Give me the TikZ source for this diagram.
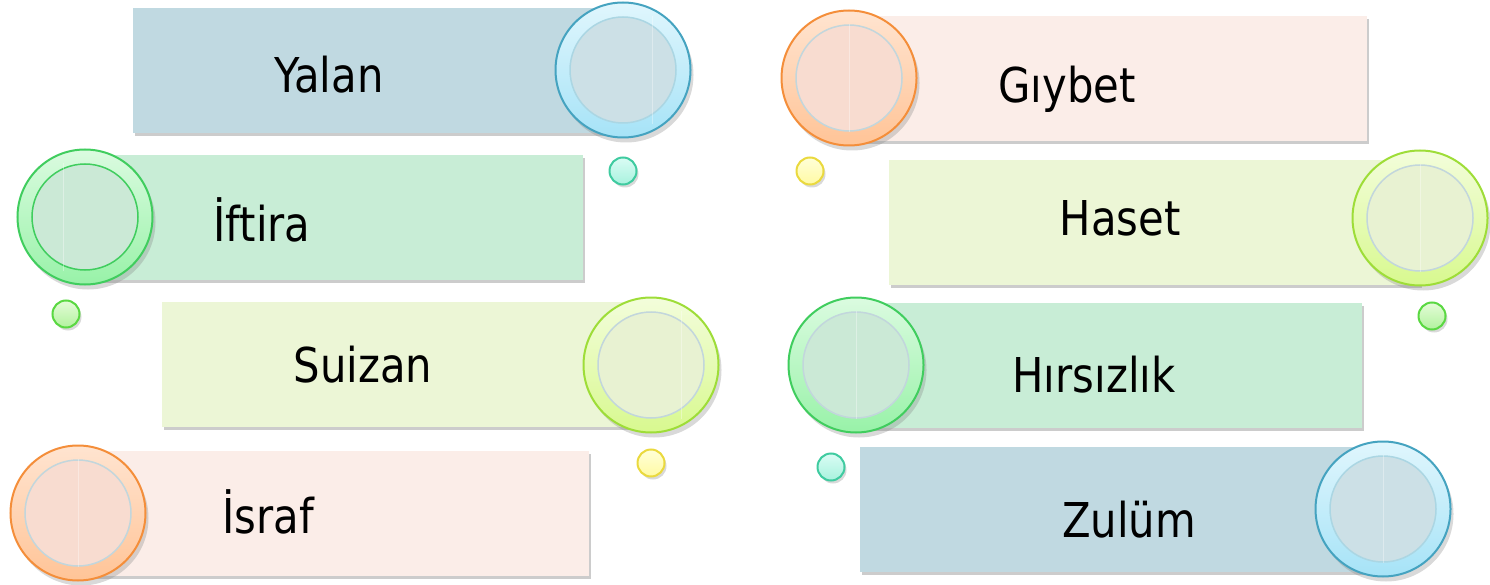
\documentclass[tikz,border=0pt]{standalone}
\usepackage{fontspec}
\setmainfont[FakeStretch=0.87]{DejaVu Sans}
\usetikzlibrary{shadows}

\definecolor{boxblue}{HTML}{C0D9E1}
\definecolor{boxgreen}{HTML}{C8EDD6}
\definecolor{boxlime}{HTML}{ECF6D6}
\definecolor{boxpink}{HTML}{FBEDE8}

\definecolor{blueline}{HTML}{45A3C0}
\definecolor{bluetop}{HTML}{E0F6FD}
\definecolor{bluebot}{HTML}{A6E3F7}
\definecolor{bluecore}{HTML}{CCE0E6}
\definecolor{greenline}{HTML}{40CD5E}
\definecolor{greentop}{HTML}{DBFBE0}
\definecolor{greenbot}{HTML}{98F2A8}
\definecolor{greencore}{HTML}{CBE9D6}
\definecolor{orangeline}{HTML}{F48E3A}
\definecolor{orangetop}{HTML}{FFE4D0}
\definecolor{orangebot}{HTML}{FFC497}
\definecolor{orangecore}{HTML}{F8DCD0}
\definecolor{limeline}{HTML}{9EDD38}
\definecolor{limetop}{HTML}{F3FDDB}
\definecolor{limebot}{HTML}{D8F98F}
\definecolor{limecore}{HTML}{E8F2D2}
\definecolor{coreline}{HTML}{C2D6DC}

\definecolor{tealline}{HTML}{3FCBA0}
\definecolor{tealtop}{HTML}{DAFCF4}
\definecolor{tealbot}{HTML}{A8F2DE}
\definecolor{leafline}{HTML}{5AD842}
\definecolor{leaftop}{HTML}{E4FCD8}
\definecolor{leafbot}{HTML}{B2F29E}
\definecolor{sunline}{HTML}{EAD93E}
\definecolor{suntop}{HTML}{FFFFD8}
\definecolor{sunbot}{HTML}{FFFAA4}

\tikzset{
  box/.style={rectangle, inner sep=0pt, minimum height=125pt,
              drop shadow={opacity=0.4, shadow xshift=2pt, shadow yshift=-3pt}},
  ring/.style={circle, inner sep=0pt, minimum size=135pt, line width=2pt,
               drop shadow={opacity=0.3, shadow xshift=3pt, shadow yshift=-5pt}},
  core/.style={circle, inner sep=0pt, minimum size=106pt, line width=1.5pt},
  dot/.style={circle, inner sep=0pt, minimum size=27pt, line width=2pt,
              drop shadow={opacity=0.3, shadow xshift=2pt, shadow yshift=-3pt}},
  label/.style={anchor=base, font=\fontsize{48}{58}\selectfont, text=black},
  ringblue/.style={ring, draw=blueline, top color=bluetop, bottom color=bluebot},
  ringgreen/.style={ring, draw=greenline, top color=greentop, bottom color=greenbot},
  ringorange/.style={ring, draw=orangeline, top color=orangetop, bottom color=orangebot},
  ringlime/.style={ring, draw=limeline, top color=limetop, bottom color=limebot},
  dotteal/.style={dot, draw=tealline, top color=tealtop, bottom color=tealbot},
  dotleaf/.style={dot, draw=leafline, top color=leaftop, bottom color=leafbot},
  dotsun/.style={dot, draw=sunline, top color=suntop, bottom color=sunbot},
  shine/.style={white, opacity=0.35, line width=1pt},
}

\begin{document}
\begin{tikzpicture}[x=1pt,y=-1pt]
  \useasboundingbox (0,0) rectangle (1490,585);

  % The boxes
  \node[box, fill=boxblue, minimum width=482pt] (yalan) at (374,70.5) {};
  \node[box, fill=boxgreen, minimum width=498pt] (iftira) at (334,217.5) {};
  \node[box, fill=boxlime, minimum width=489pt] (suizan) at (406.5,364.5) {};
  \node[box, fill=boxpink, minimum width=511pt] (israf) at (333.5,513.5) {};
  \node[box, fill=boxpink, minimum width=518pt] (giybet) at (1108,78.5) {};
  \node[box, fill=boxlime, minimum width=531pt] (haset) at (1154.5,222.5) {};
  \node[box, fill=boxgreen, minimum width=506pt] (hirsizlik) at (1109,365) {};
  \node[box, fill=boxblue, minimum width=523pt] (zulum) at (1121.5,509.5) {};

  % The rings
  \node[ringblue] (c1) at (623,70) {};
  \node[core, fill=bluecore, draw=blueline!45] (k1) at (c1) {};
  \node[ringgreen] (c2) at (85,217) {};
  \node[core, fill=greencore, draw=greenline] (k2) at (c2) {};
  \node[ringlime] (c3) at (651,365) {};
  \node[core, fill=limecore, draw=coreline] (k3) at (c3) {};
  \node[ringorange] (c4) at (78,513) {};
  \node[core, fill=orangecore, draw=coreline] (k4) at (c4) {};
  \node[ringorange] (c5) at (849,78) {};
  \node[core, fill=orangecore, draw=coreline] (k5) at (c5) {};
  \node[ringlime] (c6) at (1420,218) {};
  \node[core, fill=limecore, draw=coreline] (k6) at (c6) {};
  \node[ringgreen] (c7) at (856,365) {};
  \node[core, fill=greencore, draw=coreline] (k7) at (c7) {};
  \node[ringblue] (c8) at (1383,509) {};
  \node[core, fill=bluecore, draw=blueline!45] (k8) at (c8) {};

  % Faint reflections
  \draw[shine] ([xshift=29pt]k1.north) -- ([xshift=29pt]k1.south);
  \draw[shine] ([xshift=-22pt]k2.north) -- ([xshift=-22pt]k2.south);
  \draw[shine] ([xshift=30pt]k3.north) -- ([xshift=30pt]k3.south);
  \draw[shine] (k4.north) -- (k4.south);
  \draw[shine] (k5.north) -- (k5.south);
  \draw[shine] (k6.north) -- (k6.south);
  \draw[shine] (k7.north) -- (k7.south);
  \draw[shine] (k8.north) -- (k8.south);

  % The small dots
  \node[dotteal] (d1) at (623,171) {};
  \node[dotleaf] (d2) at (66,314) {};
  \node[dotsun] (d3) at (651,463) {};
  \node[dotsun] (d4) at (810,171) {};
  \node[dotleaf] (d5) at (1432,316) {};
  \node[dotteal] (d6) at (831,467) {};

  % The words
  \node[label] (t1) at (329,93) {Yalan};
  \node[label] (t2) at (262,242) {İftira};
  \node[label] (t3) at (363,382) {Suizan};
  \node[label] (t4) at (268,533) {İsraf};
  \node[label] (t5) at (1067,103) {Gıybet};
  \node[label] (t6) at (1120,236) {Haset};
  \node[label] (t7) at (1094,392) {Hırsızlık};
  \node[label] (t8) at (1129,537) {Zulüm};
\end{tikzpicture}
\end{document}
